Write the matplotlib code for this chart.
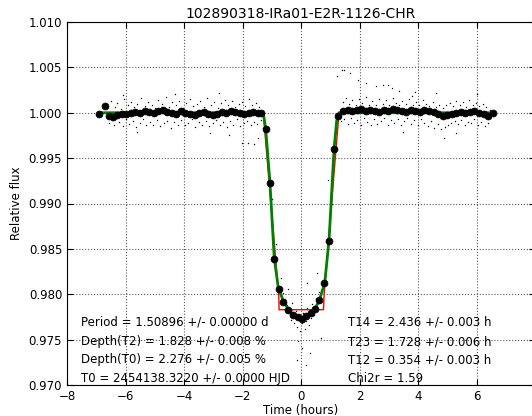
import numpy as np
import matplotlib
matplotlib.use("Agg")
import matplotlib.pyplot as plt

title = "102890318-IRa01-E2R-1126-CHR"

# binned light curve (hours, relative flux)
bin_t = [-6.89, -6.70, -6.55, -6.43, -6.28, -6.12, -5.97, -5.81, -5.66, -5.50,
         -5.35, -5.19, -5.04, -4.88, -4.73, -4.57, -4.42, -4.26, -4.11, -3.95,
         -3.80, -3.64, -3.49, -3.33, -3.18, -3.02, -2.87, -2.71, -2.56, -2.40,
         -2.25, -2.09, -1.94, -1.78, -1.63, -1.47, -1.36,
         -1.21, -1.063, -0.915, -0.743, -0.606, -0.434, -0.263, -0.091, 0.023,
         0.171, 0.331, 0.491, 0.628, 0.80, 0.96, 1.12, 1.28,
         1.43, 1.59, 1.74, 1.90, 2.05, 2.21, 2.36, 2.52, 2.67, 2.83, 2.98, 3.14,
         3.29, 3.45, 3.60, 3.76, 3.91, 4.07, 4.22, 4.38, 4.53, 4.69, 4.84, 5.00,
         5.15, 5.31, 5.46, 5.62, 5.77, 5.93, 6.08, 6.26, 6.41, 6.58]
bin_f = [0.9999, 1.0007, 0.9996, 0.9995, 0.9998, 0.9999, 0.9999, 1.0000, 1.0001, 1.0000,
         1.0002, 1.0001, 1.0000, 1.0002, 1.0003, 1.0001, 1.0000, 0.9999, 1.0002, 1.0000,
         0.9999, 0.9998, 1.0000, 1.0001, 0.9999, 0.9998, 0.9999, 1.0001, 1.0000, 1.0002,
         1.0001, 1.0000, 0.9999, 1.0000, 1.0001, 1.0000, 1.0000,
         0.9982, 0.9923, 0.9839, 0.9806, 0.9792, 0.9783, 0.9777, 0.9775, 0.9773,
         0.9776, 0.9779, 0.9784, 0.9794, 0.9812, 0.9859, 0.9960, 0.9996,
         1.0002, 1.0003, 1.0002, 1.0003, 1.0004, 1.0002, 1.0003, 1.0002, 1.0001, 1.0003, 1.0002, 1.0004,
         1.0003, 1.0002, 1.0001, 1.0003, 1.0002, 1.0001, 1.0003, 1.0002, 1.0001, 0.9999, 0.9996, 0.9997,
         0.9999, 1.0000, 1.0001, 1.0000, 1.0001, 1.0002, 1.0000, 0.9999, 0.9996, 1.0000]

# fitted model (green) and trapezoid model (red)
model_t = [-6.89, -1.29, -1.21, -1.063, -0.915, -0.78, -0.6, -0.4, -0.2, 0.0,
           0.2, 0.4, 0.6, 0.81, 0.96, 1.131, 1.22, 1.30, 6.58]
model_f = [1.0, 1.0, 0.9983, 0.9924, 0.9840, 0.9808, 0.9792, 0.9782, 0.9776, 0.9774,
           0.9776, 0.9781, 0.9791, 0.9812, 0.9860, 0.9961, 0.9991, 1.0, 1.0]
trap_t = [-1.29, -0.76, -0.75, 0.77, 0.79, 1.30]
trap_f = [1.0, 0.9798, 0.9783, 0.9783, 0.9800, 1.0]

# raw photometry (hours, relative flux)
raw_before = [
    (-6.62, 1.0009), (-6.58, 0.9989), (-6.51, 1.0013), (-6.46, 0.9992), (-6.39, 0.9986),
    (-6.35, 1.0006), (-6.29, 1.0011), (-6.22, 0.9990), (-6.17, 1.0004), (-6.10, 0.9985),
    (-6.04, 1.0015), (-5.99, 0.9993), (-5.93, 1.0008), (-5.88, 0.9988), (-5.81, 1.0012),
    (-5.76, 0.9991), (-5.70, 1.0006), (-5.64, 0.9984), (-5.59, 1.0010), (-5.52, 0.9989),
    (-5.47, 1.0016), (-5.40, 0.9993), (-5.34, 1.0007), (-5.29, 0.9986), (-5.22, 1.0012),
    (-5.17, 0.9990), (-5.11, 1.0009), (-5.05, 0.9987), (-4.99, 1.0005), (-4.93, 0.9992),
    (-4.88, 1.0014), (-4.81, 0.9985), (-4.75, 1.0010), (-4.70, 0.9989), (-4.63, 1.0017),
    (-4.58, 0.9991), (-4.52, 1.0006), (-4.46, 0.9983), (-4.40, 1.0012), (-4.34, 0.9990),
    (-4.29, 1.0008), (-4.22, 0.9987), (-4.17, 1.0013), (-4.10, 0.9992), (-4.05, 1.0005),
    (-3.98, 0.9986), (-3.92, 1.0011), (-3.86, 0.9989), (-3.81, 1.0015), (-3.74, 0.9993),
    (-3.68, 1.0007), (-3.63, 0.9984), (-3.56, 1.0010), (-3.50, 0.9990), (-3.45, 1.0013),
    (-3.38, 0.9987), (-3.33, 1.0006), (-3.26, 0.9991), (-3.20, 1.0016), (-3.15, 0.9985),
    (-3.08, 1.0009), (-3.02, 0.9989), (-2.97, 1.0012), (-2.90, 0.9992), (-2.85, 1.0005),
    (-2.78, 0.9986), (-2.72, 1.0011), (-2.66, 0.9990), (-2.61, 1.0014), (-2.54, 0.9984),
    (-2.49, 1.0008), (-2.43, 0.9991), (-2.37, 1.0013), (-2.31, 0.9987), (-2.25, 1.0006),
    (-2.19, 0.9993), (-2.13, 1.0010), (-2.08, 0.9985), (-2.01, 1.0012), (-1.96, 0.9989),
    (-1.90, 1.0007), (-1.84, 0.9991), (-1.78, 1.0015), (-1.72, 0.9986), (-1.66, 1.0009),
    (-1.60, 0.9990), (-1.55, 1.0011), (-1.49, 0.9988), (-1.43, 1.0006), (-1.38, 0.9992),
    (-2.02, 0.9967), (-1.82, 0.9967), (-1.61, 0.9966), (-2.45, 0.9975), (-1.47, 0.9972),
    (-3.10, 0.9978), (-5.60, 0.9979), (-4.30, 1.0021), (-2.80, 1.0022), (-6.10, 1.0020),
]
raw_during = [
    (-1.30, 0.9983), (-1.15, 0.9960), (-1.00, 0.9905), (-0.85, 0.9855), (-0.70, 0.9818),
    (-0.62, 0.9801), (-0.55, 0.9795), (-0.48, 0.9788), (-0.41, 0.9779), (-0.35, 0.9772),
    (-0.30, 0.9790), (-0.24, 0.9768), (-0.18, 0.9781), (-0.12, 0.9764), (-0.07, 0.9773),
    (-0.02, 0.9759), (0.03, 0.9768), (0.08, 0.9779), (0.12, 0.9762), (0.17, 0.9771),
    (0.22, 0.9785), (0.27, 0.9766), (0.33, 0.9774), (0.38, 0.9789), (0.44, 0.9777),
    (0.50, 0.9795), (0.56, 0.9786), (0.62, 0.9803), (-0.14, 0.9727), (0.17, 0.9722),
    (0.05, 0.9741), (-0.10, 0.9748), (0.30, 0.9735), (0.20, 0.9812), (0.55, 0.9823),
    (0.91, 0.9926), (1.05, 0.9900), (1.20, 0.9978), (0.70, 0.9752), (-0.45, 0.9806),
]
raw_after = [
    (1.40, 1.0047), (1.47, 1.0047), (1.24, 1.0041), (1.68, 1.0044), (2.23, 1.0033),
    (2.80, 1.0031), (2.97, 1.0031), (3.36, 1.0024), (3.80, 1.0019), (3.90, 1.0023),
    (1.95, 1.0036), (2.55, 1.0029), (3.10, 1.0027),
    (1.36, 0.9991), (1.42, 1.0012), (1.47, 0.9993), (1.53, 1.0016), (1.59, 0.9988),
    (1.64, 1.0010), (1.70, 0.9994), (1.76, 1.0014), (1.81, 0.9989), (1.87, 1.0008),
    (1.93, 0.9992), (1.99, 1.0015), (2.04, 0.9987), (2.10, 1.0011), (2.16, 0.9994),
    (2.21, 1.0017), (2.27, 0.9990), (2.33, 1.0009), (2.38, 0.9986), (2.44, 1.0013),
    (2.50, 0.9993), (2.56, 1.0008), (2.61, 0.9988), (2.67, 1.0015), (2.73, 0.9991),
    (2.79, 1.0010), (2.84, 0.9994), (2.90, 1.0014), (2.96, 0.9987), (3.01, 1.0009),
    (3.07, 0.9992), (3.13, 1.0016), (3.19, 0.9989), (3.24, 1.0011), (3.30, 0.9993),
    (3.36, 1.0008), (3.41, 0.9986), (3.47, 1.0013), (3.53, 0.9991), (3.59, 1.0010),
    (3.64, 0.9994), (3.70, 1.0015), (3.76, 0.9988), (3.82, 1.0009), (3.87, 0.9992),
    (3.93, 1.0012), (3.99, 0.9987), (4.05, 1.0008), (4.10, 0.9993), (4.16, 1.0014),
    (4.22, 0.9989), (4.27, 1.0010), (4.33, 0.9985), (4.39, 1.0007), (4.45, 0.9991),
    (4.50, 1.0012), (4.56, 0.9983), (4.62, 1.0006), (4.68, 0.9988), (4.73, 1.0009),
    (4.79, 0.9982), (4.85, 1.0005), (4.91, 0.9984), (4.96, 1.0008), (5.02, 0.9986),
    (5.08, 1.0011), (5.13, 0.9989), (5.19, 1.0007), (5.25, 0.9991), (5.31, 1.0013),
    (5.36, 0.9988), (5.42, 1.0009), (5.48, 0.9992), (5.53, 1.0012), (5.59, 0.9987),
    (5.65, 1.0006), (5.71, 0.9990), (5.76, 1.0014), (5.82, 0.9989), (5.88, 1.0008),
    (5.93, 0.9993), (5.99, 1.0011), (6.05, 0.9986), (6.10, 1.0007), (6.16, 0.9990),
    (6.22, 1.0010), (6.28, 0.9985), (6.33, 1.0006), (6.39, 0.9989), (6.45, 1.0003),
    (4.90, 0.9972), (5.30, 0.9978), (6.00, 1.0021), (4.60, 1.0022), (3.50, 0.9979),
]

left_notes = ["Period = 1.50896 +/- 0.00000 d",
              "Depth(T2) = 1.828 +/- 0.008 %",
              "Depth(T0) = 2.276 +/- 0.005 %",
              "T0 = 2454138.3220 +/- 0.0000 HJD"]
right_notes = ["T14 = 2.436 +/- 0.003 h",
               "T23 = 1.728 +/- 0.006 h",
               "T12 = 0.354 +/- 0.003 h",
               "Chi2r = 1.59"]
note_rows = [0.97694, 0.97477, 0.97276, 0.97077]

fig = plt.figure(figsize=(5.32, 4.16), dpi=100)
ax = fig.add_axes([67 / 532, 31 / 416, 468 / 532, 363 / 416])

raw = np.array(raw_before + raw_during + raw_after)
ax.scatter(raw[:, 0], raw[:, 1], s=1.0, color="black", linewidths=0, zorder=2)
ax.plot(trap_t, trap_f, color="red", lw=1.0, zorder=3)
ax.plot(model_t, model_f, color="green", lw=2.0, zorder=4)
ax.plot(bin_t, bin_f, "o", color="black", ms=5, mew=0.5, zorder=5)

for y, txt in zip(note_rows, left_notes):
    ax.text(-7.52, y, txt, fontsize=8.5, va="center", ha="left")
for y, txt in zip(note_rows, right_notes):
    ax.text(1.61, y, txt, fontsize=8.5, va="center", ha="left")

ax.set_xlim(-8, 8)
ax.set_ylim(0.970, 1.010)
ax.set_xticks(range(-8, 7, 2))
ax.set_yticks(np.arange(0.970, 1.0101, 0.005))
ax.yaxis.set_major_formatter(matplotlib.ticker.FormatStrFormatter("%.3f"))
ax.tick_params(direction="in", top=True, right=True, labelsize=8.5, length=4)
ax.grid(True, linestyle=":", color="0.35", linewidth=0.8)
ax.set_xlabel("Time (hours)", fontsize=8.5, labelpad=1)
ax.set_ylabel("Relative flux", fontsize=8.5)
ax.set_title(title, fontsize=10, pad=3)

fig.savefig("out.png", dpi=100)
